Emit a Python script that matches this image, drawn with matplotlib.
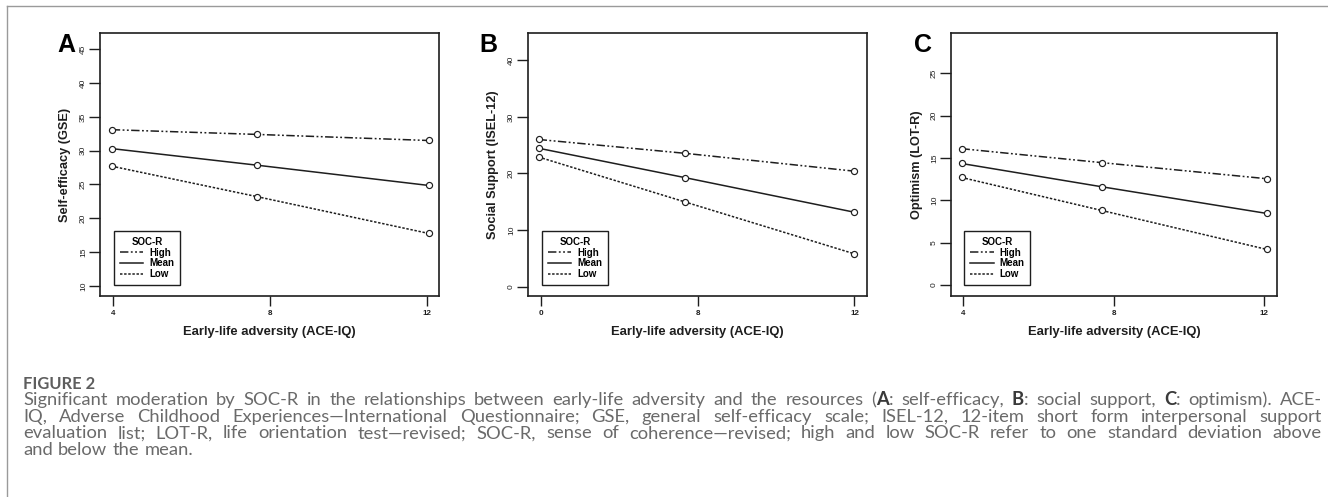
import matplotlib
matplotlib.use("Agg")
import matplotlib.pyplot as plt
from matplotlib.lines import Line2D

W, H, DPI = 1328, 497, 100

# ---------------- data ----------------
x_ticks = [4, 8, 12]
x_ticklabels_a = ["4", "8", "12"]
x_ticklabels_b = ["0", "8", "12"]
x_ticklabels_c = ["4", "8", "12"]
y_ticks_a = [10, 15, 20, 25, 30, 35, 40, 45]
y_ticks_b = [0, 10, 20, 30, 40]
y_ticks_c = [0, 5, 10, 15, 20, 25]

ace_a = [3.97, 7.67, 12.05]
gse_high = [33.1, 32.4, 31.5]
gse_mean = [30.3, 27.85, 24.85]
gse_low = [27.7, 23.2, 17.75]

ace_b = [3.95, 7.69, 12.0]
isel_high = [26.0, 23.55, 20.4]
isel_mean = [24.45, 19.25, 13.15]
isel_low = [22.9, 14.95, 5.8]

ace_c = [3.95, 7.68, 12.07]
lot_high = [16.1, 14.45, 12.55]
lot_mean = [14.35, 11.6, 8.45]
lot_low = [12.7, 8.8, 4.2]

series_labels = ["High", "Mean", "Low"]
legend_title = "SOC-R"
x_label = "Early-life adversity (ACE-IQ)"
panel_letters = ["A", "B", "C"]
y_labels = ["Self-efficacy (GSE)", "Social Support (ISEL-12)", "Optimism (LOT-R)"]

caption_head = "FIGURE 2"
caption_lines = [
    "Significant moderation by SOC-R in the relationships between early-life adversity and the resources (**A**: self-efficacy, **B**: social support, **C**: optimism). ACE-",
    "IQ, Adverse Childhood Experiences\u2014International Questionnaire; GSE, general self-efficacy scale; ISEL-12, 12-item short form interpersonal support",
    "evaluation list; LOT-R, life orientation test\u2014revised; SOC-R, sense of coherence\u2014revised; high and low SOC-R refer to one standard deviation above",
    "and below the mean.",
]

# ---------------- styling ----------------
INK = "#1e1e1e"
SANS = ["Liberation Sans", "DejaVu Sans"]
CAP = ["Lato", "DejaVu Sans"]
styles = {
    "High": dict(linestyle=(0, (5.5, 1.6, 1.2, 1.6, 1.2, 1.6))),
    "Mean": dict(linestyle="-"),
    "Low": dict(linestyle=(0, (1.6, 1.1))),
}

fig = plt.figure(figsize=(W / DPI, H / DPI), dpi=DPI)

# panel geometry in pixels: left, top, right, bottom
panels = [
    dict(box=(100, 33, 439, 296), x=ace_a, ys=[gse_high, gse_mean, gse_low],
         xlim=(3.67, 12.31), ylim=(8.5, 47.4), yt=y_ticks_a, xtl=x_ticklabels_a,
         letter_x=57, ylab_x=65),
    dict(box=(528, 33, 867, 296), x=ace_b, ys=[isel_high, isel_mean, isel_low],
         xlim=(3.68, 12.32), ylim=(-1.64, 44.8), yt=y_ticks_b, xtl=x_ticklabels_b,
         letter_x=479, ylab_x=493),
    dict(box=(951, 33, 1277, 296), x=ace_c, ys=[lot_high, lot_mean, lot_low],
         xlim=(3.67, 12.34), ylim=(-1.3, 29.76), yt=y_ticks_c, xtl=x_ticklabels_c,
         letter_x=914, ylab_x=917),
]

for i, p in enumerate(panels):
    l, t, r, b = p["box"]
    ax = fig.add_axes([l / W, 1 - b / H, (r - l) / W, (b - t) / H])
    for lab, yv in zip(series_labels, p["ys"]):
        ax.plot(p["x"], yv, color=INK, lw=1.1, marker="o", ms=4.4,
                mfc="white", mec=INK, mew=0.85, label=lab, **styles[lab])
    ax.set_xlim(*p["xlim"])
    ax.set_ylim(*p["ylim"])
    ax.set_xticks(x_ticks)
    ax.set_xticklabels(p["xtl"], fontfamily=SANS, fontweight="bold", fontsize=5.8, color=INK)
    ax.set_yticks(p["yt"])
    ax.set_yticklabels([str(v) for v in p["yt"]], fontfamily=SANS, fontsize=6.0,
                       color=INK, rotation=90, va="center")
    ax.tick_params(axis="both", direction="out", length=7.8, width=1.0, color=INK)
    ax.tick_params(axis="y", pad=1.5)
    ax.tick_params(axis="x", pad=2.5, length=7.3)
    for s in ax.spines.values():
        s.set_color(INK)
        s.set_linewidth(1.2)
    ax.set_xlabel(x_label, fontfamily=SANS, fontweight="bold", fontsize=9.4, color=INK, va="center")
    ax.xaxis.set_label_coords(0.5, -(331.7 - b) / (b - t))
    ax.set_ylabel(y_labels[i], fontfamily=SANS, fontweight="bold", fontsize=9.2, color=INK, va="center")
    ax.yaxis.set_label_coords((p["ylab_x"] - l) / (r - l), 0.5)
    leg = ax.legend(title=legend_title, loc="lower left", bbox_to_anchor=(0.041, 0.042),
                    prop=dict(family=SANS, weight="bold", size=7.0),
                    title_fontproperties=dict(family=SANS, weight="bold", size=7.0),
                    frameon=True, fancybox=False, edgecolor=INK, framealpha=1,
                    borderpad=0.6, handlelength=2.4, handletextpad=0.6,
                    labelspacing=0.08, borderaxespad=0)
    leg.get_frame().set_linewidth(1.0)
    for h in leg.legend_handles:
        h.set_marker("")
    fig.text(p["letter_x"] / W, 1 - 52.3 / H, panel_letters[i], fontfamily=SANS,
             fontweight="bold", fontsize=18, color="black", ha="left", va="baseline")

# outer frame (top and left rules)
fig.add_artist(Line2D([6.5 / W, 1], [1 - 5.5 / H, 1 - 5.5 / H], color="#9a9a9a", lw=1.0))
fig.add_artist(Line2D([6.5 / W, 6.5 / W], [0, 1 - 5.5 / H], color="#9a9a9a", lw=1.0))

# ---------------- caption (justified) ----------------
renderer = fig.canvas.get_renderer()
CAP_W = "normal"


def width_px(s, **kw):
    tt = fig.text(0, 0, s, **kw)
    w = tt.get_window_extent(renderer).width
    tt.remove()
    return w


def parse(line):
    words = []
    for w in line.split(" "):
        segs = []
        parts = w.split("**")
        for k, part in enumerate(parts):
            if part:
                segs.append((part, k % 2 == 1))
        words.append(segs)
    return words


CAP_COLOR = "#6a6a6a"
CAP_BOLD = "#3a3a3a"
left_px, right_px = 23, 1322


def wt(bd):
    return "bold" if bd else CAP_W


def natural(words, fs):
    ww = []
    for segs in words:
        ww.append(sum(width_px(s, fontfamily=CAP, fontsize=fs, fontweight=wt(bd)) for s, bd in segs))
    sp = (width_px("a a", fontfamily=CAP, fontsize=fs, fontweight=CAP_W)
          - width_px("aa", fontfamily=CAP, fontsize=fs, fontweight=CAP_W))
    return ww, sp


w1, sp1 = natural(parse(caption_lines[0]), 10)
nat1 = sum(w1) + sp1 * (len(w1) - 1)
cap_fs = 0.95 * 10 * (right_px - left_px) / nat1

fig.text(left_px / W, 1 - 389 / H, caption_head, fontfamily=CAP, fontweight="bold",
         fontsize=cap_fs * 0.9, color="#5e5e5e", ha="left", va="baseline")

baselines = [405, 421.7, 438.4, 455.1]
for li, line in enumerate(caption_lines):
    words = parse(line)
    ww, sp = natural(words, cap_fs)
    justify = li < len(caption_lines) - 1
    if justify and len(words) > 1:
        gap = (right_px - left_px - sum(ww)) / (len(words) - 1)
    else:
        gap = sp * 1.15
    x = left_px
    for segs, wdt in zip(words, ww):
        xx = x
        for s, bd in segs:
            fig.text(xx / W, 1 - baselines[li] / H, s, fontfamily=CAP, fontsize=cap_fs,
                     fontweight=wt(bd), color=(CAP_BOLD if bd else CAP_COLOR),
                     ha="left", va="baseline")
            xx += width_px(s, fontfamily=CAP, fontsize=cap_fs, fontweight=wt(bd))
        x += wdt + gap

fig.savefig("out.png", dpi=DPI)
